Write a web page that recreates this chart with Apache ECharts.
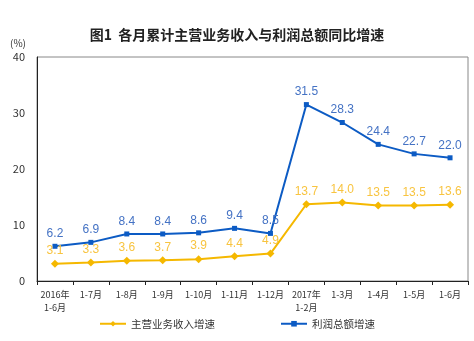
<!DOCTYPE html>
<html><head><meta charset="utf-8">
<script src="https://cdn.jsdelivr.net/npm/echarts@6/dist/echarts.min.js"></script>
<style>html,body{margin:0;padding:0;background:#fff}#c{width:474px;height:341px}</style>
</head><body><div id="c"></div>
<script>
const categories = ['2016年\n1-6月','1-7月','1-8月','1-9月','1-10月','1-11月','1-12月','2017年\n1-2月','1-3月','1-4月','1-5月','1-6月'];
const revenueGrowth = [3.1,3.3,3.6,3.7,3.9,4.4,4.9,13.7,14.0,13.5,13.5,13.6];
const profitGrowth = [6.2,6.9,8.4,8.4,8.6,9.4,8.5,31.5,28.3,24.4,22.7,22.0];
const yTicks = [0,10,20,30,40];
const seriesNames = ['主营业务收入增速','利润总额增速'];
const titleText = '图1  各月累计主营业务收入与利润总额同比增速';

const font = '"Noto Sans CJK SC", sans-serif';
const chart = echarts.init(document.getElementById('c'));
chart.setOption({
  animation:false,
  backgroundColor:'#fff',
  title:{text:titleText,left:'center',top:23,textStyle:{fontFamily:font,fontSize:14,fontWeight:'bold',color:'#222'}},
  graphic:[{type:'text',left:10,top:38,style:{text:'(%)',font:'10px '+font,fill:'#333'}}],
  grid:{left:37,right:6,top:57,bottom:60,show:true,borderColor:'#888',borderWidth:1},
  legend:{bottom:7,left:'center',itemGap:65,itemWidth:26,itemHeight:7,
    textStyle:{fontFamily:font,fontSize:10.5,color:'#333'},data:seriesNames},
  xAxis:{type:'category',data:categories,boundaryGap:true,
    axisLine:{lineStyle:{color:'#222'}},axisTick:{show:true,length:4,lineStyle:{color:'#222'}},
    axisLabel:{fontFamily:font,fontSize:9,color:'#333',margin:7,lineHeight:13,interval:0}},
  yAxis:{type:'value',min:yTicks[0],max:yTicks[yTicks.length-1],interval:10,
    splitLine:{show:false},axisLine:{show:true,lineStyle:{color:'#222'}},axisTick:{show:false},
    axisLabel:{fontFamily:font,fontSize:11,color:'#333',margin:12}},
  series:[
    {name:seriesNames[1],type:'line',data:profitGrowth,symbol:'rect',symbolSize:5,z:2,
      itemStyle:{color:'#0C5BC4'},lineStyle:{color:'#0C5BC4',width:2},
      label:{show:true,position:'top',distance:4,color:'#4472C4',fontSize:12,fontFamily:'"Liberation Sans", Arial, sans-serif',formatter:p=>p.value.toFixed(1)}},
    {name:seriesNames[0],type:'line',data:revenueGrowth,symbol:'diamond',symbolSize:8,z:3,
      itemStyle:{color:'#F5B800'},lineStyle:{color:'#F5B800',width:2},
      label:{show:true,position:'top',distance:3,color:'#F8C440',fontSize:12,fontFamily:'"Liberation Sans", Arial, sans-serif',formatter:p=>p.value.toFixed(1)}}
  ]
});
</script></body></html>
